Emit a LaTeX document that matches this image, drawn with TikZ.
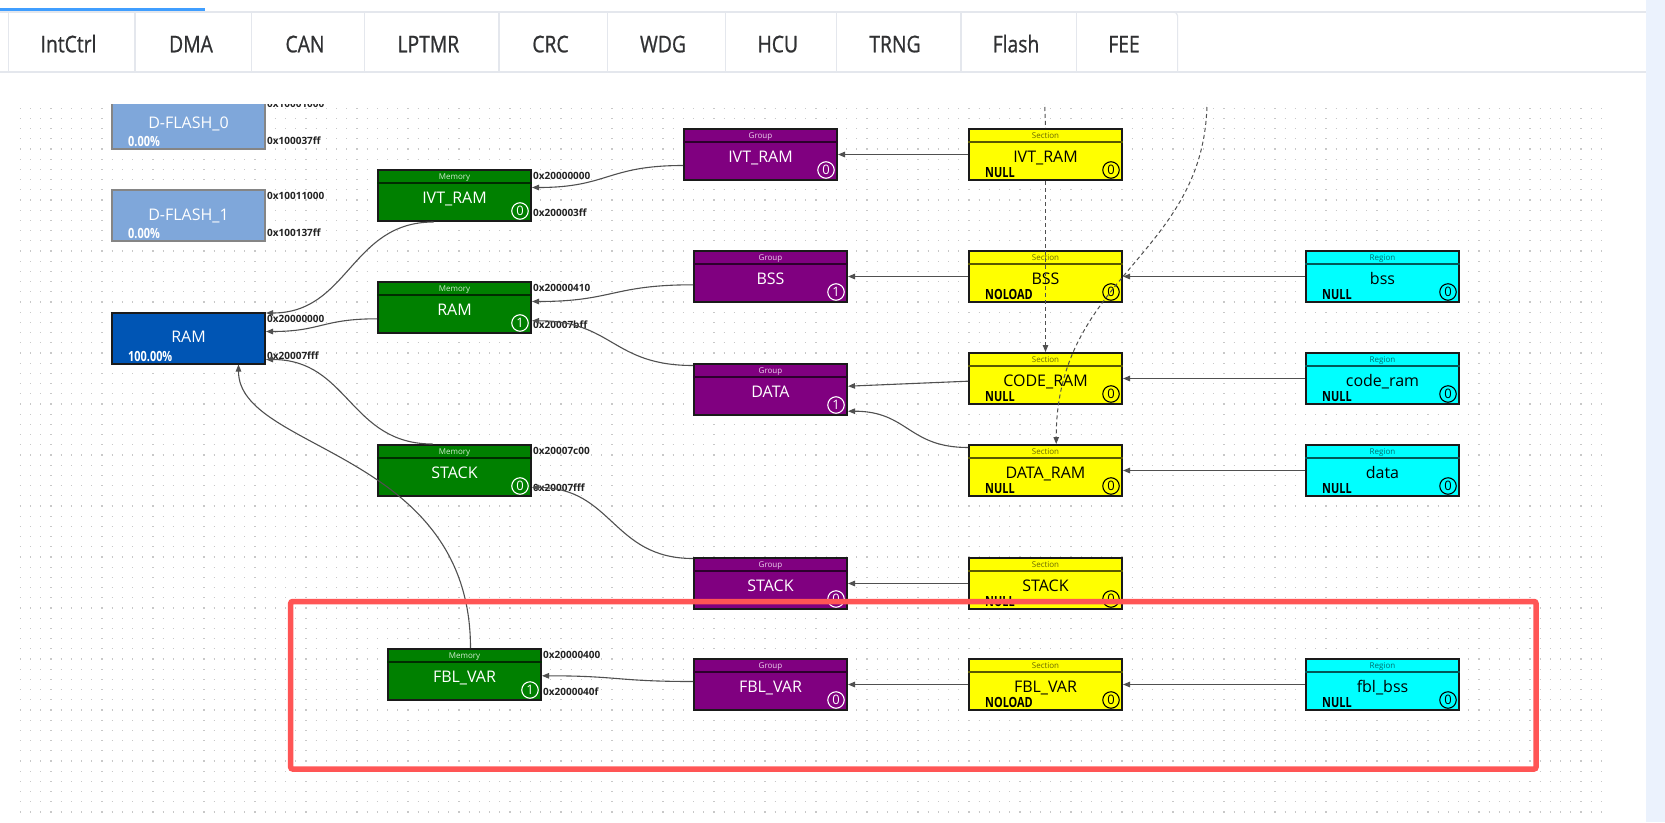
\documentclass[tikz,border=0pt]{standalone}
\usepackage{fontspec}
\setmainfont{Open Sans}
\newfontfamily\tabfont[FakeStretch=0.84,FakeBold=0.8]{Open Sans}
\newfontfamily\lowfont[FakeStretch=0.78]{Open Sans}
\usetikzlibrary{arrows.meta}
\definecolor{memg}{HTML}{008000}
\definecolor{grpp}{HTML}{800080}
\definecolor{secy}{HTML}{FFFF00}
\definecolor{regc}{HTML}{00FFFF}
\definecolor{ramb}{HTML}{0055B4}
\definecolor{dfl}{HTML}{7FA7DA}
\definecolor{dflborder}{HTML}{858585}
\definecolor{boxline}{HTML}{1A1A1A}
\definecolor{edgec}{HTML}{505050}
\definecolor{dotc}{HTML}{C8C8C8}
\definecolor{tabline}{HTML}{E4E7ED}
\definecolor{tabtxt}{HTML}{303133}
\definecolor{progress}{HTML}{409EFF}
\definecolor{redbox}{HTML}{FF5555}
\definecolor{scrollbg}{HTML}{EBF2FD}
\definecolor{addrc}{HTML}{222222}
\colorlet{Memoryfill}{memg}
\definecolor{Memoryhead}{HTML}{D2EED2}
\colorlet{Memorytext}{white}
\colorlet{Memorysep}{memg!35!black}
\colorlet{Groupfill}{grpp}
\definecolor{Grouphead}{HTML}{EED2EE}
\colorlet{Grouptext}{white}
\colorlet{Groupsep}{grpp!35!black}
\colorlet{Sectionfill}{secy}
\definecolor{Sectionhead}{HTML}{6A6A00}
\colorlet{Sectiontext}{black}
\colorlet{Sectionsep}{secy!35!black}
\colorlet{Regionfill}{regc}
\definecolor{Regionhead}{HTML}{007070}
\colorlet{Regiontext}{black}
\colorlet{Regionsep}{regc!35!black}
\tikzset{
  kbox/.style={rectangle, draw=boxline, line width=2pt, minimum width=153pt, minimum height=51pt, inner sep=0pt, anchor=north west},
  headtxt/.style={anchor=base, inner sep=0pt, font=\fontsize{8}{8}\selectfont},
  titletxt/.style={anchor=base, inner sep=0pt, font=\fontsize{16}{16}\selectfont},
  cnt/.style={circle, line width=1.1pt, minimum size=16.5pt, inner sep=0pt, font=\fontsize{13}{13}\selectfont},
  lowtxt/.style={anchor=base west, inner sep=0pt, font=\lowfont\bfseries\fontsize{14}{14}\selectfont},
  addrtxt/.style={anchor=west, inner sep=0pt, text=addrc, font=\bfseries\fontsize{10}{10}\selectfont},
  tablabel/.style={anchor=base, inner sep=0pt, text=tabtxt, font=\tabfont\fontsize{23}{23}\selectfont},
  conn/.style={draw=edgec, line width=1.1pt, -{Triangle[length=7pt,width=5.5pt]}},
  dconn/.style={conn, line width=1pt, dash pattern=on 4pt off 3pt},
  tabrule/.style={draw=tabline, line width=1.2pt},
}
\newcommand{\kindbox}[7]{%
  \node[kbox, fill=#4fill] (#1) at (#2,#3) {};
  \draw[#4sep, line width=1.5pt] ([yshift=-14pt]#1.north west) -- ([yshift=-14pt]#1.north east);
  \node[headtxt, text=#4head] (#1-h) at ([yshift=-10.2pt]#1.north) {#4};
  \node[titletxt, text=#4text] (#1-t) at ([yshift=-34.4pt]#1.north) {#5};
  \node[cnt, draw=#4text, text=#4text] (#1-c) at ([xshift=-12pt,yshift=11pt]#1.south east) {#6};
  \node[lowtxt, text=#4text] (#1-l) at ([xshift=17pt,yshift=3.5pt]#1.south west) {#7};
}
\newcommand{\ramnode}[7]{%
  \node[kbox, fill=#4, draw=#5] (#1) at (#2,#3) {};
  \node[titletxt, text=white] (#1-t) at ([yshift=-31.2pt]#1.north) {#6};
  \node[lowtxt, text=white] (#1-l) at ([xshift=17pt,yshift=3.5pt]#1.south west) {#7};
}
\newcommand{\addr}[3]{%
  \node[addrtxt] (#1-a) at ([xshift=1pt,yshift=-7pt]#1.north east) {#2};
  \node[addrtxt] (#1-b) at ([xshift=1pt,yshift=9pt]#1.south east) {#3};
}
\begin{document}
\begin{tikzpicture}[x=1pt,y=-1pt]
\useasboundingbox (0,0) rectangle (1665,822);
\fill[white] (0,0) rectangle (1665,822);
\fill[scrollbg] (1646,0) rectangle (1665,822);
% tab bar
\fill[progress] (0,8) rectangle (205,10.7);
\draw[tabrule] (0,12) -- (1646,12);
\draw[tabrule] (0,72) -- (1646,72);
\foreach \x in {8.5,134.9,251.7,364.2,499,607.4,725.2,836.7,961,1076.7}
  \draw[tabrule] (\x,12) -- (\x,72);
\draw[tabrule, rounded corners=4pt] (1177.6,72) -- (1177.6,12) -- (1168,12);
\foreach \x/\t in {68.5/IntCtrl,191/DMA,305/CAN,428.4/LPTMR,550.5/CRC,663/WDG,777.8/HCU,895/TRNG,1016/Flash,1124/FEE}
  \node[tablabel] (tab-\t) at (\x,52.3) {\t};
% canvas
\begin{scope}
\clip (0,104) rectangle (1646,822);
\foreach \j in {0,...,69}
  \draw[dotc, line width=1.2pt, dash pattern=on 1.2pt off 9pt] (19.8,108.1+10.2*\j) -- (1603,108.1+10.2*\j);
% blue memory blocks
\ramnode{DF0}{111}{97}{dfl}{dflborder}{D-FLASH\_0}{0.00\%}
\ramnode{DF1}{111}{189}{dfl}{dflborder}{D-FLASH\_1}{0.00\%}
\ramnode{RAMb}{111}{311.5}{ramb}{boxline}{RAM}{100.00\%}
% memory
\kindbox{MemIVT}{377}{169}{Memory}{IVT\_RAM}{0}{}
\kindbox{MemRAM}{377}{281}{Memory}{RAM}{1}{}
\kindbox{MemSTACK}{377}{444}{Memory}{STACK}{0}{}
\kindbox{MemFBL}{387}{648}{Memory}{FBL\_VAR}{1}{}
% groups
\kindbox{GrpIVT}{683}{128}{Group}{IVT\_RAM}{0}{}
\kindbox{GrpBSS}{693}{250}{Group}{BSS}{1}{}
\kindbox{GrpDATA}{693}{363}{Group}{DATA}{1}{}
\kindbox{GrpSTACK}{693}{557}{Group}{STACK}{0}{}
\kindbox{GrpFBL}{693}{658}{Group}{FBL\_VAR}{0}{}
% sections
\kindbox{SecIVT}{968}{128}{Section}{IVT\_RAM}{0}{NULL}
\kindbox{SecBSS}{968}{250}{Section}{BSS}{0}{NOLOAD}
\kindbox{SecCODE}{968}{352}{Section}{CODE\_RAM}{0}{NULL}
\kindbox{SecDATA}{968}{444}{Section}{DATA\_RAM}{0}{NULL}
\kindbox{SecSTACK}{968}{557}{Section}{STACK}{0}{NULL}
\kindbox{SecFBL}{968}{658}{Section}{FBL\_VAR}{0}{NOLOAD}
% regions
\kindbox{RegBSS}{1305}{250}{Region}{bss}{0}{NULL}
\kindbox{RegCODE}{1305}{352}{Region}{code\_ram}{0}{NULL}
\kindbox{RegDATA}{1305}{444}{Region}{data}{0}{NULL}
\kindbox{RegFBL}{1305}{658}{Region}{fbl\_bss}{0}{NULL}
% address labels
\addr{DF0}{0x10001000}{0x100037ff}
\addr{DF1}{0x10011000}{0x100137ff}
\addr{RAMb}{0x20000000}{0x20007fff}
\addr{MemIVT}{0x20000000}{0x200003ff}
\addr{MemRAM}{0x20000410}{0x20007bff}
\addr{MemSTACK}{0x20007c00}{0x20007fff}
\addr{MemFBL}{0x20000400}{0x2000040f}
% connectors
\draw[conn] (SecIVT.west) -- (GrpIVT.east);
\draw[conn] (SecBSS.west) -- (GrpBSS.east);
\draw[conn] (RegBSS.west) -- (SecBSS.east);
\draw[conn] ([yshift=-2.7pt]SecCODE.west) -- ([yshift=3.3pt]GrpDATA.east);
\draw[conn] ([yshift=23pt]SecDATA.west) .. controls +(-60,0) and +(60,0) .. ([yshift=-21.7pt]GrpDATA.east);
\draw[conn] (RegCODE.west) -- (SecCODE.east);
\draw[conn] (RegDATA.west) -- (SecDATA.east);
\draw[conn] (SecSTACK.west) -- (GrpSTACK.east);
\draw[conn] (SecFBL.west) -- (GrpFBL.east);
\draw[conn] (RegFBL.west) -- (SecFBL.east);
\draw[conn] ([yshift=3pt]GrpFBL.west) .. controls +(-76,0) and +(76,0) .. ([yshift=-1.3pt]MemFBL.east);
\draw[conn] ([yshift=-11pt]GrpIVT.west) .. controls +(-76,0) and +(76,0) .. ([yshift=8pt]MemIVT.east);
\draw[conn] ([yshift=-8.3pt]GrpBSS.west) .. controls +(-81,0) and +(81,0) .. ([yshift=6pt]MemRAM.east);
\draw[conn] ([yshift=24pt]GrpDATA.west) .. controls +(-81,0) and +(81,0) .. ([yshift=-13.3pt]MemRAM.east);
\draw[conn] ([yshift=25pt]GrpSTACK.west) .. controls +(-81,0) and +(81,0) .. ([yshift=-17pt]MemSTACK.east);
\draw[conn] ([xshift=-21pt]MemIVT.south) .. controls +(-83,0) and +(83,0) .. ([yshift=25pt]RAMb.east);
\draw[conn] ([yshift=-11.3pt]MemRAM.west) .. controls +(-55,0) and +(55,0) .. ([yshift=6.5pt]RAMb.east);
\draw[conn] ([xshift=-22pt]MemSTACK.north) .. controls +(-83,0) and +(83,0) .. ([yshift=-21.5pt]RAMb.east);
\draw[conn] ([xshift=6pt]MemFBL.north) .. controls +(0,-198) and +(0,87) .. ([xshift=50pt]RAMb.south);
% dashed connectors
\coordinate (topA) at (1044.5,100);
\coordinate (topB) at (1207,100);
\draw[dconn, -] (topA) -- (SecIVT.north);
\draw[dconn] (SecIVT.south) -- (SecCODE.north);
\draw[dconn] (topB) .. controls +(0,155) and +(0,-168) .. ([xshift=10.7pt]SecDATA.north);
\end{scope}
% highlight frame
\draw[redbox, line width=5.5pt, rounded corners=2pt] (290.7,601.5) rectangle (1536,769);
\end{tikzpicture}
\end{document}
